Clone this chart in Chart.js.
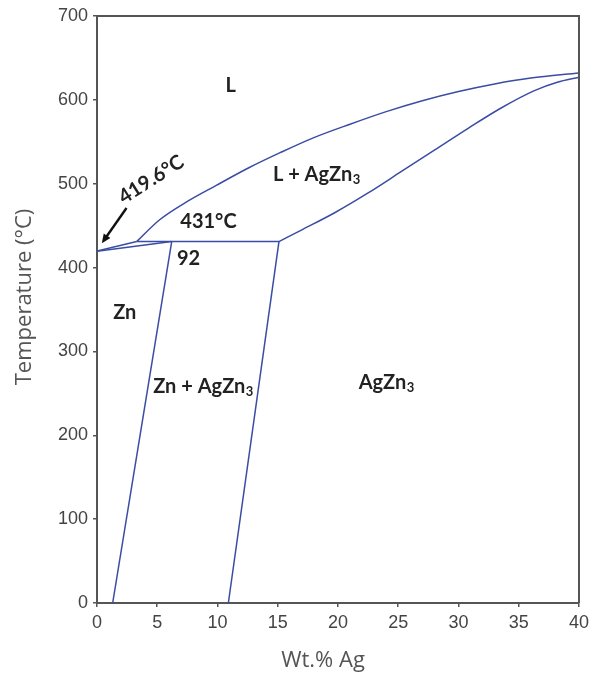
<!DOCTYPE html>
<html>
<head>
<meta charset="utf-8">
<script src="https://cdn.jsdelivr.net/npm/chart.js@4"></script>
<style>
  html, body { margin: 0; padding: 0; background: #fff; }
  #wrap { width: 594px; height: 674px; }
</style>
</head>
<body>
<div id="wrap"><canvas id="phase"></canvas></div>
<script>
// Axis ticks
const xTicks = [0, 5, 10, 15, 20, 25, 30, 35, 40];
const yTicks = [0, 100, 200, 300, 400, 500, 600, 700];

// Phase boundaries (wt.% Ag, temperature °C)
const liqLowX = [0, 3.3];
const liqLowT = [419.6, 431];

const liquidusX = [3.3, 5.2, 7.4, 9.9, 12.6, 15.2, 18.0, 21.0, 24.0, 27.0, 30.0, 33.0, 36.0, 40];
const liquidusT = [431, 457, 478, 498, 519, 537, 555, 571, 586, 599, 610, 619, 626, 632];

const agzn3LiqX = [15.1, 17.0, 19.8, 22.5, 25.2, 28.0, 30.8, 33.5, 36.3, 38.2, 40];
const agzn3LiqT = [431, 445, 466, 489, 514, 540, 566, 590, 611, 621, 627];

const znSolidusX = [0, 6.2];
const znSolidusT = [419.6, 431];

const peritecticX = [3.3, 15.1];
const peritecticT = [431, 431];

const znSolvusX = [6.2, 1.3];
const znSolvusT = [431, 0];

const agzn3SolvusX = [15.1, 10.9];
const agzn3SolvusT = [431, 0];

// Region labels: [text, subscript, x, T]
const labels = [
  ['L', '', 11.1, 617],
  ['L + AgZn', '3', 18.2, 511],
  ['431°C', '', 9.25, 455],
  ['92', '', 7.6, 411],
  ['Zn', '', 2.3, 346],
  ['Zn + AgZn', '3', 8.8, 258],
  ['AgZn', '3', 24.0, 263]
];

const lineColor = '#3a4ca3';
const axisColor = '#555';

function pts(xs, ts) {
  return xs.map((x, i) => ({ x: x, y: ts[i] }));
}

function boundary(xs, ts, curved) {
  return {
    data: pts(xs, ts),
    showLine: true,
    borderColor: lineColor,
    borderWidth: 1.5,
    pointRadius: 0,
    fill: false,
    cubicInterpolationMode: curved ? 'monotone' : 'default',
    tension: 0
  };
}

// Draw box, labels, axis titles and the 419.6°C arrow
const annotate = {
  id: 'annotate',
  afterDatasetsDraw(chart) {
    const { ctx, chartArea: a, scales: { x, y } } = chart;
    ctx.save();
    ctx.strokeStyle = axisColor;
    ctx.lineWidth = 2;
    ctx.beginPath();
    ctx.moveTo(a.left, a.top);
    ctx.lineTo(a.right, a.top);
    ctx.lineTo(a.right, a.bottom);
    ctx.stroke();

    ctx.fillStyle = '#222';
    ctx.textBaseline = 'middle';
    labels.forEach(([txt, sub, lx, lt]) => {
      ctx.font = 'bold 20px Lato';
      const w1 = ctx.measureText(txt).width;
      ctx.font = 'bold 13px Lato';
      const w2 = sub ? ctx.measureText(sub).width : 0;
      const px = x.getPixelForValue(lx) - (w1 + w2) / 2;
      const py = y.getPixelForValue(lt);
      ctx.font = 'bold 20px Lato';
      ctx.textAlign = 'left';
      ctx.fillText(txt, px, py);
      if (sub) {
        ctx.font = 'bold 13px Lato';
        ctx.fillText(sub, px + w1 + 0.5, py + 5);
      }
    });

    // rotated melting point label
    ctx.save();
    ctx.translate(x.getPixelForValue(4.5), y.getPixelForValue(505));
    ctx.rotate(-32.5 * Math.PI / 180);
    ctx.font = 'bold 20px Lato';
    ctx.textAlign = 'center';
    ctx.fillText('419.6°C', 0, 0);
    ctx.restore();

    // arrow
    const x1 = x.getPixelForValue(2.45), y1 = y.getPixelForValue(471);
    const x2 = x.getPixelForValue(0.4), y2 = y.getPixelForValue(429);
    const back = Math.atan2(y1 - y2, x1 - x2);
    ctx.strokeStyle = '#111';
    ctx.fillStyle = '#111';
    ctx.lineWidth = 2.4;
    ctx.beginPath();
    ctx.moveTo(x1, y1);
    ctx.lineTo(x2 + 4 * Math.cos(back), y2 + 4 * Math.sin(back));
    ctx.stroke();
    const ang = back + Math.PI;
    ctx.beginPath();
    ctx.moveTo(x2, y2);
    ctx.lineTo(x2 - 10 * Math.cos(ang - 0.42), y2 - 10 * Math.sin(ang - 0.42));
    ctx.lineTo(x2 - 10 * Math.cos(ang + 0.42), y2 - 10 * Math.sin(ang + 0.42));
    ctx.closePath();
    ctx.fill();

    // axis titles (slightly off-centre in the original)
    ctx.fillStyle = '#555';
    ctx.font = '22px "Open Sans"';
    ctx.textAlign = 'center';
    ctx.fillText('Wt.% Ag', 323, 661);
    ctx.save();
    ctx.translate(25, 297);
    ctx.rotate(-Math.PI / 2);
    ctx.fillText('Temperature (°C)', 0, 0);
    ctx.restore();
    ctx.restore();
  }
};

new Chart(document.getElementById('phase'), {
  type: 'scatter',
  data: {
    datasets: [
      boundary(liqLowX, liqLowT, false),
      boundary(liquidusX, liquidusT, true),
      boundary(agzn3LiqX, agzn3LiqT, true),
      boundary(znSolidusX, znSolidusT, false),
      boundary(peritecticX, peritecticT, false),
      boundary(znSolvusX, znSolvusT, false),
      boundary(agzn3SolvusX, agzn3SolvusT, false)
    ]
  },
  options: {
    responsive: true,
    maintainAspectRatio: false,
    animation: false,
    layout: { padding: { top: 16, right: 12, left: 0, bottom: 0 } },
    plugins: { legend: { display: false }, tooltip: { enabled: false } },
    scales: {
      x: {
        type: 'linear',
        min: 0, max: 40,
        afterBuildTicks: s => { s.ticks = xTicks.map(v => ({ value: v })); },
        afterFit: s => { s.height = 71; },
        ticks: { color: '#444', font: { family: 'Liberation Sans', size: 18 }, padding: 5, maxRotation: 0 },
        grid: { display: true, drawOnChartArea: false, drawTicks: true, tickLength: 4, color: axisColor, lineWidth: 1.5 },
        border: { display: true, color: axisColor, width: 2 }
      },
      y: {
        type: 'linear',
        min: 0, max: 700,
        afterBuildTicks: s => { s.ticks = yTicks.map(v => ({ value: v })); },
        afterFit: s => { s.width = 97; },
        ticks: { color: '#444', font: { family: 'Liberation Sans', size: 18 }, padding: 5 },
        grid: { display: true, drawOnChartArea: false, drawTicks: true, tickLength: 4, color: axisColor, lineWidth: 1.5 },
        border: { display: true, color: axisColor, width: 2 }
      }
    }
  },
  plugins: [annotate]
});
</script>
</body>
</html>
